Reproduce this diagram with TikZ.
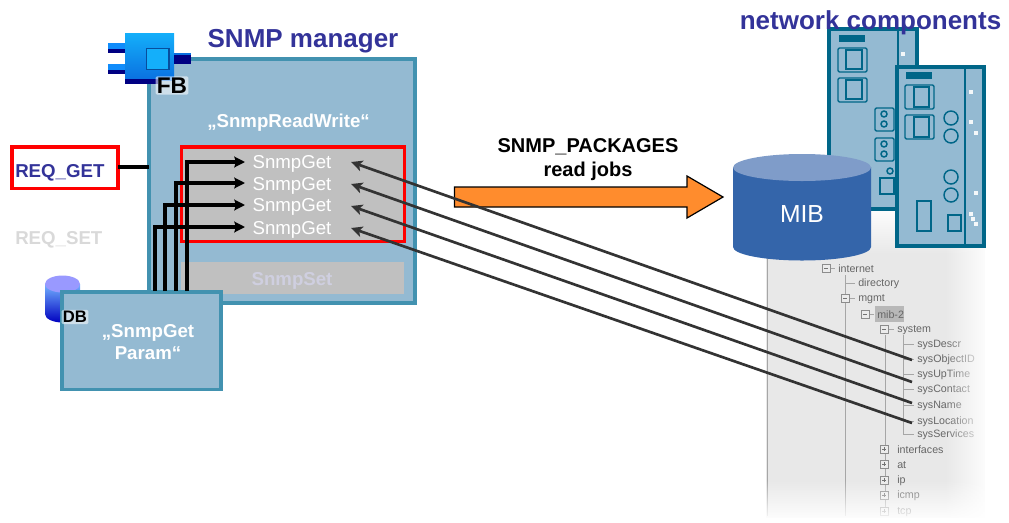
\documentclass[tikz,border=0pt]{standalone}
\usepackage{fontspec}
\setmainfont{Liberation Sans}
\usetikzlibrary{arrows.meta,fadings,shadings}
\definecolor{boxfill}{HTML}{94BAD2}
\definecolor{boxline}{HTML}{4292B0}
\definecolor{modline}{HTML}{006688}
\definecolor{titleblue}{HTML}{333399}
\definecolor{greybox}{HTML}{C0C0C0}
\definecolor{treegrey}{HTML}{666666}
\definecolor{mibside}{HTML}{3465AA}
\definecolor{mibtop}{HTML}{7F9CC9}
\definecolor{fbdark}{HTML}{000082}
\definecolor{fblight}{HTML}{14AFFA}
\definecolor{fbmid}{HTML}{0A70E0}
\definecolor{setgrey}{HTML}{CFCFE0}
\definecolor{pkgorange}{HTML}{FF8C2D}
\newcommand{\fs}[1]{\fontsize{#1}{#1}\selectfont}
\tikzset{
  x=0.75pt,y=-0.75pt,
  bluebox/.style={draw=boxline,fill=boxfill,line width=2.4pt},
  redbox/.style={draw=red,line width=2.6pt},
  title/.style={font=\fs{19.5}\bfseries,text=titleblue,inner sep=0pt},
  reqtext/.style={font=\fs{14}\bfseries,inner sep=0pt,anchor=west},
  whitebold/.style={font=\fontsize{14}{16.5}\selectfont\bfseries,text=white,inner sep=0pt,align=center},
  gettext/.style={font=\fs{14},text=white,inner sep=0pt},
  blacktag/.style={text=black,inner sep=1pt,fill=white,fill opacity=0.55,text opacity=1,rounded corners=1pt},
  darkarrow/.style={draw=black!80,line width=2pt,-{Stealth[length=8.5pt,width=8pt,inset=2pt]}},
  blackarrow/.style={draw=black,line width=2.4pt,-{Stealth[length=8pt,width=8pt,inset=1.2pt]}},
  slot/.style={draw=modline,line width=1.1pt,rounded corners=1pt},
  inner/.style={draw=modline,line width=1.2pt},
  modbox/.style={draw=modline,fill=boxfill,line width=2.6pt},
  circ/.style={draw=modline,line width=1.1pt},
  dotw/.style={fill=white!90!boxfill},
  tree/.style={font=\fs{8},text=treegrey,inner sep=0pt,anchor=west},
  treeline/.style={draw=black!35,line width=0.6pt},
  treebox/.style={draw=black!45,fill=black!8,line width=0.5pt},
}
\begin{document}
\begin{tikzpicture}
\useasboundingbox (0,0) rectangle (1009,522);

% tree panel
\fill[black!9] (766,205) rectangle (990,522);
\draw[black!35,line width=0.7pt] (767,205) -- (767,516);
\draw[treeline] (845,275) -- (845,516) (885,335) -- (885,516) (903,335) -- (903,434);
\draw[treeline] (829,268) -- (835,268) (845,283) -- (855,283) (850,298) -- (855,298) (870,314) -- (874,314) (889,329) -- (894,329);
\foreach \yy in {344,359,374,389,405,421,434} {\draw[treeline] (903,\yy) -- (914,\yy);}
\foreach \xx/\yy/\sg in {826/268/0,845/298/0,865/314/0,884/329/0,884/449/1,884/464/1,884/480/1,884/495/1,884/511/1} {
  \draw[treebox] (\xx-4,\yy-4) rectangle (\xx+4,\yy+4);
  \draw[black!55,line width=0.5pt] (\xx-2,\yy) -- (\xx+2,\yy);
  \ifnum\sg=1 \draw[black!55,line width=0.5pt] (\xx,\yy-2) -- (\xx,\yy+2);\fi
}
\fill[black!28] (875,306) rectangle (904,322);
\node[tree] (tinternet) at (838,269) {internet};
\node[tree] (tdirectory) at (858,284) {directory};
\node[tree] (tmgmt) at (858,299) {mgmt};
\node[tree] (tmib) at (877,315) {mib-2};
\node[tree] (tsystem) at (897,330) {system};
\node[tree] (tdescr) at (917,345) {sysDescr};
\node[tree] (tobject) at (917,360) {sysObjectID};
\node[tree] (tuptime) at (917,375) {sysUpTime};
\node[tree] (tcontact) at (917,390) {sysContact};
\node[tree] (tname) at (917,406) {sysName};
\node[tree] (tlocation) at (917,422) {sysLocation};
\node[tree] (tservices) at (917,435) {sysServices};
\node[tree] (tinterfaces) at (897,450) {interfaces};
\node[tree] (tat) at (897,465) {at};
\node[tree] (tip) at (897,481) {ip};
\node[tree] (ticmp) at (897,496) {icmp};
\node[tree] (ttcp) at (897,512) {tcp};
% panel fades
\fill[white,path fading=west] (945,200) rectangle (990,522);
\fill[white] (985,200) rectangle (995,522);
\fill[white,path fading=north] (760,480) rectangle (995,522);
\fill[white,path fading=south] (760,205) rectangle (995,255);
\fill[white] (760,518) rectangle (995,522);

% network components: left module
\draw[modbox] (829,29) rectangle (917,209);
\fill[modline] (839,35) rectangle (865,42);
\draw[modline,line width=0.9pt] (898,29) -- (898,209);
\draw[slot] (838,48) rectangle (867,72);
\draw[inner] (846,50) rectangle (862,69);
\draw[slot] (838,78) rectangle (867,102);
\draw[inner] (846,80) rectangle (862,99);
\draw[slot] (875,108) rectangle (894,131);
\draw[circ] (884,114) circle[radius=3] (884,124) circle[radius=3];
\draw[slot] (875,138) rectangle (894,161);
\draw[circ] (884,144) circle[radius=3] (884,154) circle[radius=3];
\draw[circ] (890,171) circle[radius=3];
\draw[inner] (880,178) rectangle (894,194);
\fill[dotw] (901,52) rectangle (905,56);

% network components: right module
\draw[modbox] (897,67) rectangle (984,246);
\fill[modline] (906,72) rectangle (932,79);
\draw[modline,line width=0.9pt] (965,67) -- (965,246);
\draw[slot] (905,85) rectangle (934,109);
\draw[inner] (914,87) rectangle (929,107);
\draw[slot] (905,115) rectangle (934,139);
\draw[inner] (914,117) rectangle (929,137);
\draw[circ] (951,118) circle[radius=7] (951,136) circle[radius=7] (951,177) circle[radius=7] (951,195) circle[radius=7];
\draw[inner] (917,201) rectangle (931,231);
\draw[inner] (948,215) rectangle (961,231);
\foreach \xx/\yy in {971/92,971/122,976/133,976/193,971/214,973/219,976/224} {
  \fill[dotw] (\xx-2,\yy-2) rectangle (\xx+2,\yy+2);
}
\node[title] (nettitle) at (870.5,22.5) {network components};

% MIB cylinder
\path[fill=mibside] (733,167) -- (733,247) arc[start angle=180,end angle=0,x radius=69,y radius=13.5] -- (871,167) -- cycle;
\path[fill=mibtop] (802,167.5) circle[x radius=69,y radius=13.5];
\node[font=\fs{18.5},text=white,inner sep=0pt] (mib) at (802,214.5) {MIB};

% SNMP manager
\draw[bluebox] (149,59) rectangle (415,303);
\node[title] (mgrtitle) at (303,41.5) {SNMP manager};
\node[whitebold] (rw) at (288.5,122.5) {„SnmpReadWrite“};

\fill[greybox] (181,262) rectangle (404,294);
\node[font=\fs{14}\bfseries,text=setgrey,inner sep=0pt] (snmpset) at (292,281) {SnmpSet};

\draw[redbox,fill=greybox] (181.5,147) rectangle (404.5,241.5);
\node[gettext] (g1) at (292,163.5) {SnmpGet};
\node[gettext] (g2) at (292,185.5) {SnmpGet};
\node[gettext] (g3) at (292,207) {SnmpGet};
\node[gettext] (g4) at (292,229.5) {SnmpGet};

% FB icon
\shade[top color=fblight,bottom color=fbmid] (125,33) rectangle (174,80);
\fill[fbdark] (125,79) rectangle (158,84);
\fill[fblight!80!blue] (108,43) rectangle (125,48.5);
\fill[fbdark] (108,48.5) rectangle (125,53);
\fill[fblight!80!blue] (108,64) rectangle (125,69.5);
\fill[fbdark] (108,69.5) rectangle (125,74);
\fill[fbdark] (174,53) rectangle (191,64);
\fill[fbmid] (174,53) rectangle (191,55);
\draw[fill=fblight,draw=fbmid!70!black,line width=0.9pt] (146.5,48.5) rectangle (169,69.5);
\node[blacktag,font=\fs{17}\bfseries] (fb) at (172,85.5) {FB};

% REQ_GET / REQ_SET
\draw[redbox] (12,147) rectangle (118,188.5);
\node[reqtext,text=titleblue] (reqgettxt) at (15,172.5) {REQ\_GET};
\node[reqtext,text=black!15] (reqsettxt) at (15,239.5) {REQ\_SET};
\coordinate (reqend) at (118,167);
\coordinate (mgredge) at (149,167);
\draw[black,line width=2.4pt] (reqend) -- (mgredge);

% DB
\shade[top color=blue!55!cyan!55!white,bottom color=blue!75!black] (45,284) -- (45,314) arc[start angle=180,end angle=0,x radius=17.5,y radius=8.5] -- (80,284) -- cycle;
\fill[blue!40!white] (62.5,284) circle[x radius=17.5,y radius=8.5];
\draw[bluebox] (62,292) rectangle (221,389.5);
\node[blacktag,font=\fs{12.5}\bfseries] (db) at (75,317) {DB};
\node[whitebold] (param) at (148,342.5) {„SnmpGet\\Param“};

% package arrow
\node[font=\fontsize{15}{18}\selectfont\bfseries,align=center,inner sep=0pt] (jobs) at (588,159.5) {SNMP\_PACKAGES\\read jobs};
\draw[fill=pkgorange,draw=black,line width=0.9pt] (454.5,187) -- (687,187) -- (687,176) -- (723,197) -- (687,218) -- (687,207) -- (454.5,207) -- cycle;

% parameter arrows
\coordinate (p1) at (187,291);
\coordinate (p2) at (176,291);
\coordinate (p3) at (165,291);
\coordinate (p4) at (155,291);
\coordinate (g1in) at (245,162);
\coordinate (g2in) at (245,183);
\coordinate (g3in) at (245,205);
\coordinate (g4in) at (245,227);
\draw[blackarrow] (p1) |- (g1in);
\draw[blackarrow] (p2) |- (g2in);
\draw[blackarrow] (p3) |- (g3in);
\draw[blackarrow] (p4) |- (g4in);

% OID arrows
\coordinate (o1) at (912,360);
\coordinate (o2) at (912,382);
\coordinate (o3) at (912,403);
\coordinate (o4) at (912,423);
\coordinate (h1) at (351,162);
\coordinate (h2) at (351,184);
\coordinate (h3) at (351,206);
\coordinate (h4) at (351,228);
\draw[darkarrow] (o1) -- (h1);
\draw[darkarrow] (o2) -- (h2);
\draw[darkarrow] (o3) -- (h3);
\draw[darkarrow] (o4) -- (h4);
\end{tikzpicture}
\end{document}
